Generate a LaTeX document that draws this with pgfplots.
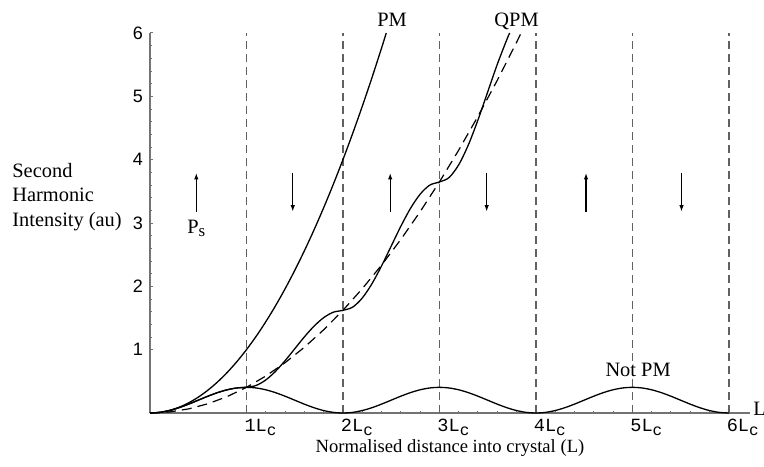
\documentclass[border=0pt]{standalone}
\usepackage{fontspec}
\setmainfont{Liberation Serif}
\setsansfont{Liberation Sans}
\setmonofont{Liberation Mono}
\usepackage{pgfplots}
\pgfplotsset{compat=1.18}
\usetikzlibrary{arrows.meta}
\newcommand{\xl}[1]{\ttfamily #1L\raisebox{-2pt}{\fontsize{8}{8}\selectfont c}}
\newcommand{\txt}{\fontsize{9.3}{12.25}\selectfont}
\newcommand{\ltxt}{\fontsize{10.2}{12.25}\selectfont}
\begin{document}
\begin{tikzpicture}
\begin{axis}[
  scale only axis, width=300pt, height=190pt,
  xmin=0, xmax=6.22, ymin=0, ymax=6,
  axis x line=bottom, axis y line=left,
  every outer x axis line/.append style={-},
  every outer y axis line/.append style={-},
  axis line style={-, black!55, line width=0.6pt},
  xtick={1,2,3,4,5,6},
  xticklabels={\xl{1},\xl{2},\xl{3},\xl{4},\xl{5},\xl{6}},
  ytick={1,2,3,4,5,6},
  yticklabels={1,2,3,4,5,6},
  minor tick num=4,
  tick style={black!55, line width=0.5pt},
  major tick length=1.75pt, minor tick length=1.25pt,
  tick align=inside,
  xticklabel style={font=\fontsize{9.3}{10}\selectfont, anchor=north, xshift=7pt, yshift=0.5pt},
  yticklabel style={font=\sffamily\fontsize{9}{10}\selectfont},
  clip=false,
  xlabel={Normalised distance into crystal (L)},
  xlabel style={at={(axis description cs:0.5,0)}, anchor=base, yshift=-19.5pt, font=\txt},
]
% vertical dashed lines
\pgfplotsinvokeforeach{1,2,3,4,5,6}{
  \addplot[black!62, line width=0.75pt, dash pattern=on 4pt off 2.5pt] coordinates {(#1,0) (#1,6)};
}
% PM
\addplot[black, line width=0.65pt, smooth] coordinates {
(0,0) (0.1,0.01) (0.2,0.04) (0.3,0.09) (0.4,0.16) (0.5,0.25) (0.6,0.36) (0.7,0.49) (0.8,0.64) (0.9,0.81)
(1.0,1.00) (1.1,1.21) (1.2,1.44) (1.3,1.69) (1.4,1.96) (1.5,2.25) (1.6,2.56) (1.7,2.89) (1.8,3.24) (1.9,3.61)
(2.0,4.00) (2.1,4.41) (2.2,4.84) (2.3,5.29) (2.4,5.76) (2.449,6.00)};
% dashed envelope
\addplot[black, line width=0.6pt, dash pattern=on 5pt off 3pt] coordinates {
(0,0) (0.2,0.0162) (0.4,0.0648) (0.6,0.1459) (0.8,0.2594) (1.0,0.4053) (1.2,0.5836) (1.4,0.7944)
(1.6,1.0376) (1.8,1.3132) (2.0,1.6212) (2.2,1.9617) (2.4,2.3345) (2.6,2.7398) (2.8,3.1775)
(3.0,3.6477) (3.2,4.1503) (3.4,4.6853) (3.6,5.2527) (3.8,5.8525) (3.847,6.0)};
% QPM
\addplot[black, line width=0.65pt, smooth] coordinates {
(0,0) (0.1,0.0099) (0.2,0.0387) (0.3,0.0835) (0.4,0.1400) (0.5,0.2026) (0.6,0.2653) (0.7,0.3218) (0.8,0.3666) (0.9,0.3954)
(1.0,0.4053) (1.1,0.4350) (1.2,0.5214) (1.3,0.6559) (1.4,0.8254) (1.5,1.0132) (1.6,1.2011) (1.7,1.3705) (1.8,1.5050) (1.9,1.5914)
(2.0,1.6211) (2.1,1.6707) (2.2,1.8147) (2.3,2.0388) (2.4,2.3213) (2.5,2.6343) (2.6,2.9474) (2.7,3.2299) (2.8,3.4540) (2.9,3.5980)
(3.0,3.6476) (3.1,3.7170) (3.2,3.9185) (3.3,4.2323) (3.4,4.6277) (3.5,5.0661) (3.6,5.5044) (3.7,5.8998) (3.729,6.0)};
% Not PM
\addplot[black, line width=0.65pt, smooth] coordinates {
(0,0) (0.1,0.0099) (0.2,0.0387) (0.3,0.0835) (0.4,0.1400) (0.5,0.2026) (0.6,0.2653) (0.7,0.3218) (0.8,0.3666) (0.9,0.3954)
(1.0,0.4053) (1.1,0.3954) (1.2,0.3666) (1.3,0.3218) (1.4,0.2653) (1.5,0.2026) (1.6,0.1400) (1.7,0.0835) (1.8,0.0387) (1.9,0.0099)
(2.0,0) (2.1,0.0099) (2.2,0.0387) (2.3,0.0835) (2.4,0.1400) (2.5,0.2026) (2.6,0.2653) (2.7,0.3218) (2.8,0.3666) (2.9,0.3954)
(3.0,0.4053) (3.1,0.3954) (3.2,0.3666) (3.3,0.3218) (3.4,0.2653) (3.5,0.2026) (3.6,0.1400) (3.7,0.0835) (3.8,0.0387) (3.9,0.0099)
(4.0,0) (4.1,0.0099) (4.2,0.0387) (4.3,0.0835) (4.4,0.1400) (4.5,0.2026) (4.6,0.2653) (4.7,0.3218) (4.8,0.3666) (4.9,0.3954)
(5.0,0.4053) (5.1,0.3954) (5.2,0.3666) (5.3,0.3218) (5.4,0.2653) (5.5,0.2026) (5.6,0.1400) (5.7,0.0835) (5.8,0.0387) (5.9,0.0099)
(6.0,0)};
% polarisation arrows
\addplot[black, line width=0.55pt, -{Latex[length=3.2pt,width=2.2pt]}] coordinates {(0.48,3.18) (0.48,3.79)};
\addplot[black, line width=0.55pt, -{Latex[length=3.2pt,width=2.2pt]}] coordinates {(1.48,3.79) (1.48,3.18)};
\addplot[black, line width=0.55pt, -{Latex[length=3.2pt,width=2.2pt]}] coordinates {(2.49,3.18) (2.49,3.79)};
\addplot[black, line width=0.55pt, -{Latex[length=3.2pt,width=2.2pt]}] coordinates {(3.49,3.79) (3.49,3.18)};
\addplot[black, line width=0.55pt, -{Latex[length=3.2pt,width=2.2pt]}] coordinates {(4.52,3.18) (4.52,3.79)};
\addplot[black, line width=0.55pt, -{Latex[length=3.2pt,width=2.2pt]}] coordinates {(5.51,3.79) (5.51,3.18)};
% labels
\node[font=\ltxt, anchor=base, yshift=3pt] at (axis cs:2.51,6) {PM};
\node[font=\ltxt, anchor=base, yshift=3pt] at (axis cs:3.80,6) {QPM};
\node[font=\ltxt, anchor=base] at (axis cs:5.06,0.57) {Not PM};
\node[font=\ltxt, anchor=base] at (axis cs:0.48,2.84) {P{\raisebox{-1.5pt}{\fontsize{8.5}{9}\selectfont s}}};
\node[font=\ltxt, anchor=base west, inner sep=0pt, xshift=1.5pt, yshift=-1pt] at (axis cs:6.22,0) {L};
\node[font=\ltxt, anchor=west, align=left, inner sep=0pt, xshift=-69pt] at (axis cs:0,3.41) {Second\\Harmonic\\Intensity (au)};
\end{axis}
\pgfresetboundingbox
\path ([xshift=-75pt,yshift=-26.5pt]current axis.south west) rectangle ([xshift=7pt,yshift=16.5pt]current axis.north east);
\end{tikzpicture}
\end{document}
